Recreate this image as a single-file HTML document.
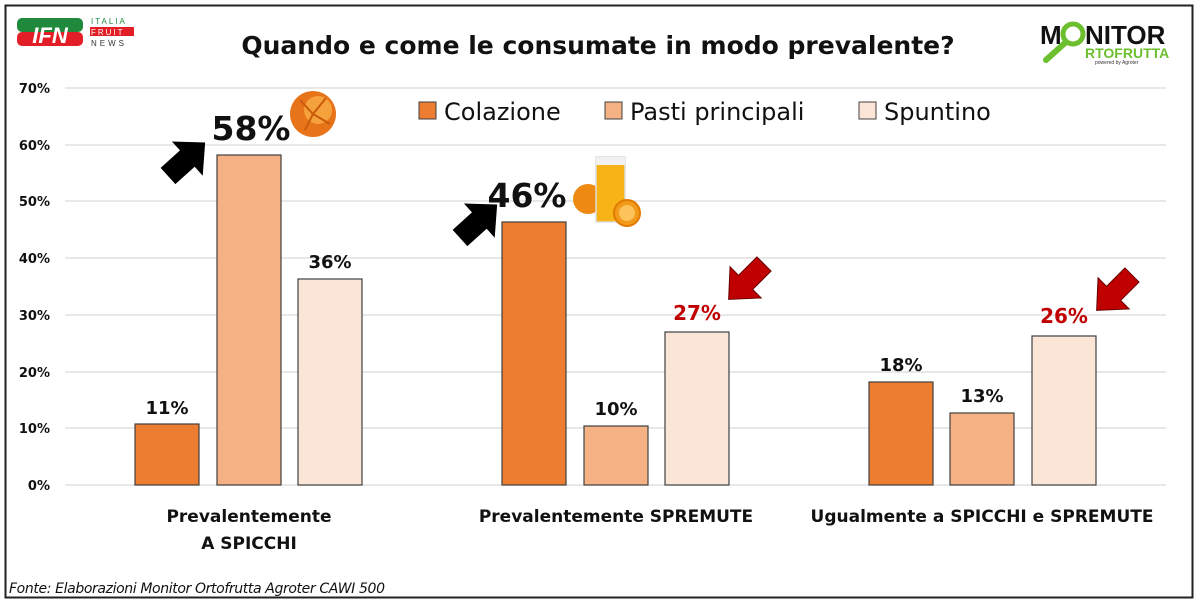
<!DOCTYPE html>
<html><head><meta charset="utf-8"><style>
html,body{margin:0;padding:0;background:#fff;}
svg{display:block;font-family:"Liberation Sans",sans-serif;}
.b{font-family:"DejaVu Sans","Liberation Sans",sans-serif;font-weight:bold;}
</style></head><body>
<svg width="1200" height="604" viewBox="0 0 1200 604" xmlns="http://www.w3.org/2000/svg">
<rect x="0" y="0" width="1200" height="604" fill="#fff"/>
<rect x="5.5" y="5.5" width="1187" height="592" fill="none" stroke="#222" stroke-width="2"/>
<!-- IFN logo -->
<rect x="17" y="18" width="66" height="14" rx="5" fill="#1f8a3c"/>
<rect x="17" y="32" width="66" height="14" rx="5" fill="#e21f26"/>
<text x="50" y="43" text-anchor="middle" font-size="22" font-weight="bold" fill="#fff" font-style="italic">IFN</text>
<text x="91" y="24" font-size="8" fill="#1f8a3c" letter-spacing="2">ITALIA</text>
<rect x="90" y="27" width="44" height="9" fill="#e21f26"/>
<text x="91" y="35" font-size="8" fill="#fff" letter-spacing="2">FRUIT</text>
<text x="91" y="46" font-size="8" fill="#333" letter-spacing="3">NEWS</text>
<!-- Monitor logo -->
<text x="1040" y="44" font-size="26" font-weight="bold" fill="#111">M</text>
<circle cx="1073" cy="34" r="10" fill="none" stroke="#6cbf2e" stroke-width="5"/>
<line x1="1066" y1="42" x2="1046" y2="60" stroke="#6cbf2e" stroke-width="6" stroke-linecap="round"/>
<text x="1085" y="44" font-size="26" font-weight="bold" fill="#111">NITOR</text>
<text x="1085" y="58" font-size="14" font-weight="bold" fill="#6cbf2e">RTOFRUTTA</text>
<text x="1095" y="64" font-size="5" fill="#333">powered by Agroter</text>
<!-- Title -->
<text x="598" y="54" text-anchor="middle" class="b" font-size="25" fill="#111">Quando e come le consumate in modo prevalente?</text>
<!-- grid -->
<g stroke="#d9d9d9" stroke-width="1.3">
<line x1="65" y1="88" x2="1166" y2="88"/><line x1="65" y1="145" x2="1166" y2="145"/>
<line x1="65" y1="201" x2="1166" y2="201"/><line x1="65" y1="258" x2="1166" y2="258"/>
<line x1="65" y1="315" x2="1166" y2="315"/><line x1="65" y1="372" x2="1166" y2="372"/>
<line x1="65" y1="428" x2="1166" y2="428"/><line x1="65" y1="485" x2="1166" y2="485"/>
</g>
<g class="b" font-size="13" fill="#111" text-anchor="end">
<text x="50" y="93">70%</text><text x="50" y="150">60%</text><text x="50" y="206">50%</text>
<text x="50" y="263">40%</text><text x="50" y="320">30%</text><text x="50" y="377">20%</text>
<text x="50" y="433">10%</text><text x="50" y="490">0%</text>
</g>
<!-- bars -->
<g stroke="#404040" stroke-width="1.2">
<rect x="135" y="424" width="64" height="61" fill="#ED7D31"/>
<rect x="217" y="155" width="64" height="330" fill="#F4B183"/>
<rect x="298" y="279" width="64" height="206" fill="#FBE5D6"/>
<rect x="502" y="222" width="64" height="263" fill="#ED7D31"/>
<rect x="584" y="426" width="64" height="59" fill="#F4B183"/>
<rect x="665" y="332" width="64" height="153" fill="#FBE5D6"/>
<rect x="869" y="382" width="64" height="103" fill="#ED7D31"/>
<rect x="950" y="413" width="64" height="72" fill="#F4B183"/>
<rect x="1032" y="336" width="64" height="149" fill="#FBE5D6"/>
</g>
<!-- value labels -->
<g class="b" fill="#111" text-anchor="middle" font-size="18">
<text x="167" y="414">11%</text>
<text x="330" y="268">36%</text>
<text x="616" y="415">10%</text>
<text x="901" y="371">18%</text>
<text x="982" y="402">13%</text>
</g>
<text x="251" y="140" text-anchor="middle" class="b" font-size="33" fill="#111">58%</text>
<text x="527" y="207" text-anchor="middle" class="b" font-size="33" fill="#111">46%</text>
<text x="697" y="320" text-anchor="middle" class="b" font-size="20" fill="#c00000">27%</text>
<text x="1064" y="323" text-anchor="middle" class="b" font-size="20" fill="#c00000">26%</text>
<!-- arrows -->
<g fill="#000">
<polygon points="0,-11 26,-11 26,-23 50,0 26,23 26,11 0,11" transform="translate(168,176) rotate(-42)"/>
<polygon points="0,-11 26,-11 26,-23 50,0 26,23 26,11 0,11" transform="translate(460,238) rotate(-42)"/>
</g>
<g fill="#c00000" stroke="#600" stroke-width="1">
<polygon points="0,-10 26,-10 26,-22 50,0 26,22 26,10 0,10" transform="translate(764,264) rotate(135)"/>
<polygon points="0,-10 26,-10 26,-22 50,0 26,22 26,10 0,10" transform="translate(1132,275) rotate(135)"/>
</g>
<!-- orange -->
<circle cx="313" cy="114" r="23" fill="#e8741a"/>
<circle cx="318" cy="110" r="14" fill="#f5a13c"/>
<path d="M300 100 L313 114 L305 130 M326 98 L313 114 L330 124" stroke="#c85a0a" stroke-width="2" fill="none"/>
<!-- juice -->
<circle cx="588" cy="199" r="15" fill="#ee8a12"/>
<rect x="596" y="157" width="29" height="65" fill="#f8b316" stroke="#ddd" stroke-width="1.5"/>
<rect x="596" y="157" width="29" height="8" fill="#f1f1f1"/>
<circle cx="627" cy="213" r="13" fill="#f39a1a" stroke="#e07a00" stroke-width="2"/>
<circle cx="627" cy="213" r="8" fill="#fbc35a"/>
<!-- legend -->
<g stroke="#404040" stroke-width="1">
<rect x="419" y="102" width="17" height="17" fill="#ED7D31"/>
<rect x="605" y="102" width="17" height="17" fill="#F4B183"/>
<rect x="859" y="102" width="17" height="17" fill="#FBE5D6"/>
</g>
<g class="b" font-size="24" fill="#111">
<text x="444" y="120" font-weight="normal">Colazione</text>
<text x="630" y="120" font-weight="normal">Pasti principali</text>
<text x="884" y="120" font-weight="normal">Spuntino</text>
</g>
<!-- categories -->
<g class="b" font-size="17" fill="#111" text-anchor="middle">
<text x="249" y="522">Prevalentemente</text>
<text x="249" y="549">A SPICCHI</text>
<text x="616" y="522">Prevalentemente SPREMUTE</text>
<text x="982" y="522">Ugualmente a SPICCHI e SPREMUTE</text>
</g>
<text x="9" y="593" font-size="14" font-style="italic" fill="#111" font-family="DejaVu Sans, sans-serif" textLength="376">Fonte: Elaborazioni Monitor Ortofrutta Agroter CAWI 500</text>
</svg>
</body></html>
